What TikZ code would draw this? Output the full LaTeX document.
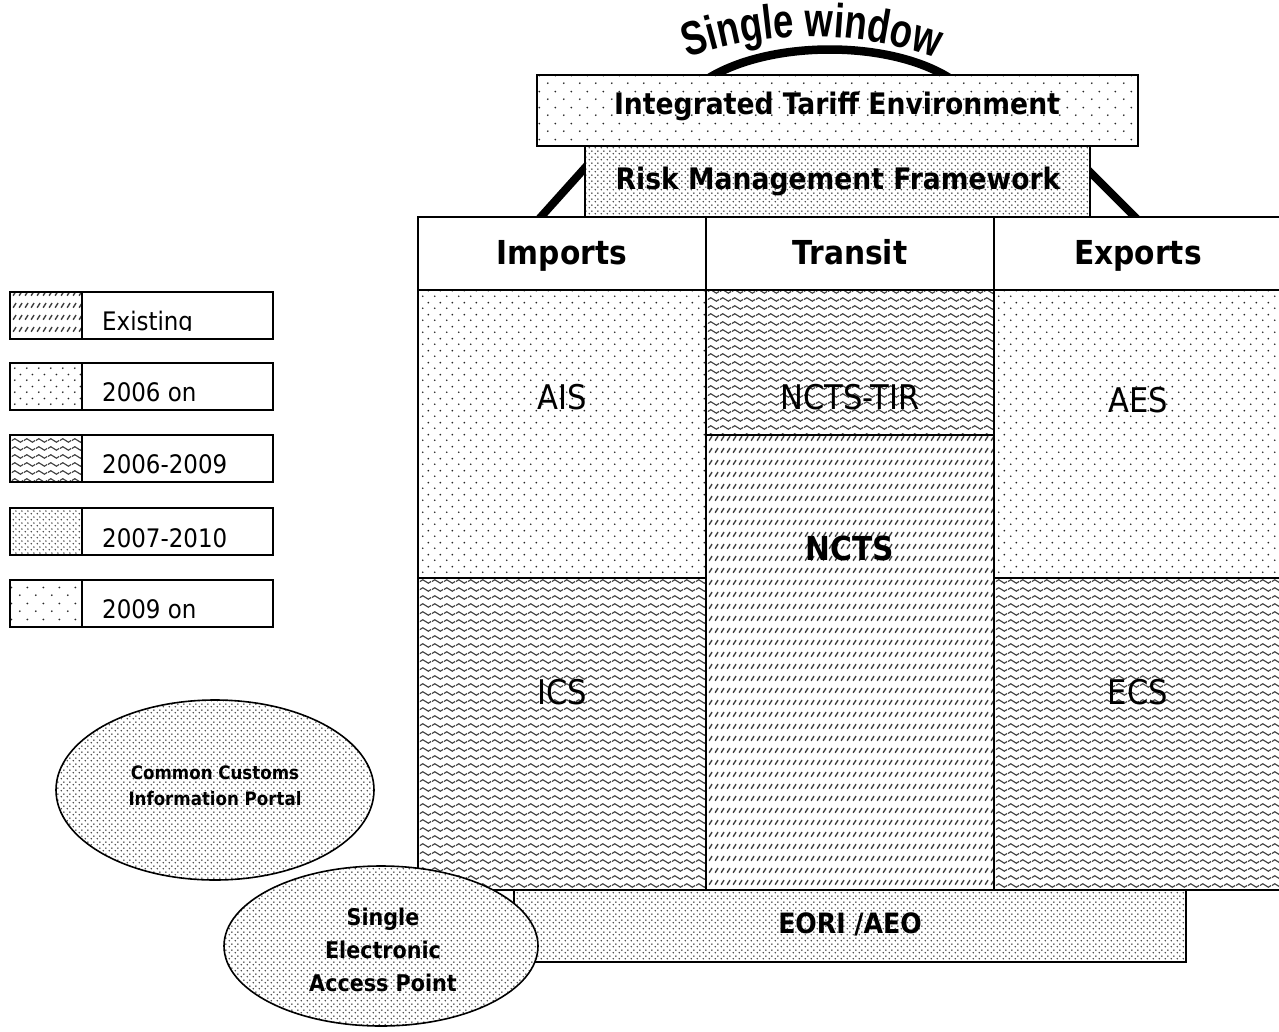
\documentclass[tikz,border=0pt]{standalone}
\usepackage{fontspec}
\setmainfont{DejaVu Sans Condensed}
\newfontfamily\libsans{Liberation Sans}[FakeStretch=0.76]
\usetikzlibrary{patterns,decorations.text,shapes.geometric}

% 2006 on
\pgfdeclarepatternformonly{dotsA}{\pgfpoint{0pt}{0pt}}{\pgfpoint{12pt}{12pt}}{\pgfpoint{12pt}{12pt}}{%
 \pgfpathcircle{\pgfpoint{3pt}{3pt}}{1pt}%
 \pgfpathcircle{\pgfpoint{9pt}{9pt}}{1pt}%
 \pgfusepath{fill}}
% 2009 on
\pgfdeclarepatternformonly{dotsB}{\pgfpoint{0pt}{0pt}}{\pgfpoint{16pt}{16pt}}{\pgfpoint{16pt}{16pt}}{%
 \pgfpathcircle{\pgfpoint{4pt}{4pt}}{1pt}%
 \pgfpathcircle{\pgfpoint{12pt}{12pt}}{1pt}%
 \pgfusepath{fill}}
% 2007-2010
\pgfdeclarepatternformonly{dotsC}{\pgfpoint{0pt}{0pt}}{\pgfpoint{6pt}{6pt}}{\pgfpoint{6pt}{6pt}}{%
 \pgfpathcircle{\pgfpoint{1.5pt}{1.5pt}}{0.95pt}%
 \pgfpathcircle{\pgfpoint{4.5pt}{4.5pt}}{0.95pt}%
 \pgfusepath{fill}}
% 2006-2009
\pgfdeclarepatternformonly{waves}{\pgfpoint{0pt}{0pt}}{\pgfpoint{12pt}{7.5pt}}{\pgfpoint{12pt}{7.5pt}}{%
 \pgfsetlinewidth{1.2pt}%
 \pgfpathmoveto{\pgfpoint{0pt}{3.75pt}}%
 \pgfpathcurveto{\pgfpoint{2pt}{6.2pt}}{\pgfpoint{4pt}{6.2pt}}{\pgfpoint{6pt}{3.75pt}}%
 \pgfpathcurveto{\pgfpoint{8pt}{1.3pt}}{\pgfpoint{10pt}{1.3pt}}{\pgfpoint{12pt}{3.75pt}}%
 \pgfusepath{stroke}}
% Existing
\pgfdeclarepatternformonly{existing}{\pgfpoint{0pt}{0pt}}{\pgfpoint{6pt}{12pt}}{\pgfpoint{6pt}{12pt}}{%
 \pgfsetlinewidth{1.6pt}%
 \pgfpathmoveto{\pgfpoint{1.3pt}{3.5pt}}%
 \pgfpathlineto{\pgfpoint{4.7pt}{8.5pt}}%
 \pgfusepath{stroke}}

\newcommand\swfont{\libsans\bfseries\fontsize{48pt}{48pt}\selectfont}

\tikzset{
 box/.style={draw=black, line width=2pt, inner sep=0pt, outer sep=0pt,
   anchor=north west, preaction={fill=white}},
 pA/.style={box, pattern=dotsA, pattern color=black!85},
 pB/.style={box, pattern=dotsB, pattern color=black!85},
 pC/.style={box, pattern=dotsC, pattern color=black!75},
 pW/.style={box, pattern=waves, pattern color=black!75},
 pE/.style={box, pattern=existing, pattern color=black!75},
 ell/.style={ellipse, draw=black, line width=1.6pt, inner sep=0pt,
   preaction={fill=white}, pattern=dotsC, pattern color=black!75},
 headtxt/.style={anchor=base, inner sep=0pt, font=\fontsize{33pt}{36pt}\selectfont\bfseries},
 celltxt/.style={inner sep=0pt, font=\fontsize{34pt}{36pt}\selectfont},
 celltxtb/.style={inner sep=0pt, font=\fontsize{33pt}{36pt}\selectfont\bfseries},
 bartxt/.style={anchor=base, inner sep=0pt, font=\fontsize{28pt}{30pt}\selectfont\bfseries},
 legtxt/.style={anchor=base west, inner sep=0pt, font=\fontsize{25.5pt}{27pt}\selectfont},
}

\begin{document}
\begin{tikzpicture}[x=1pt,y=-1pt]
\useasboundingbox (0,0) rectangle (1279,1031);

% Single window arc and text
\coordinate (arcL) at (700,84);
\coordinate (arcR) at (958,84);
\draw[line width=8.5pt] (arcL) .. controls (762,38) and (898,38) .. (arcR);
\path[decorate, decoration={text along path, text align=center,
   text={|\swfont|Single window}}]
   (662,68) .. controls (758,26) and (866,26) .. (962,68);

% thick slanted struts
\coordinate (sL1) at (592,160);
\coordinate (sL2) at (539,219);
\coordinate (sR1) at (1084,166);
\coordinate (sR2) at (1137,219);
\draw[line width=8pt] (sL1) -- (sL2);
\draw[line width=8pt] (sR1) -- (sR2);

% top boxes
\node[pB, minimum width=601pt, minimum height=71pt] (ite) at (537,75) {};
\node[bartxt, font=\fontsize{29.6pt}{30pt}\selectfont\bfseries] (itet) at (837,114) {Integrated Tariff Environment};
\node[pC, minimum width=505pt, minimum height=71pt] (rmf) at (585,146) {};
\node[bartxt, font=\fontsize{29.6pt}{30pt}\selectfont\bfseries] (rmft) at (838,189) {Risk Management Framework};

% headers
\node[box, minimum width=288pt, minimum height=73pt] (himp) at (418,217) {};
\node[box, minimum width=288pt, minimum height=73pt] (htra) at (706,217) {};
\node[box, minimum width=290pt, minimum height=73pt] (hexp) at (994,217) {};
\node[headtxt] (himpt) at (562,264) {Imports};
\node[headtxt] (htrat) at (850,264) {Transit};
\node[headtxt] (hexpt) at (1138,264) {Exports};

% cells
\node[pA, minimum width=288pt, minimum height=288pt] (ais) at (418,290) {};
\node[pW, minimum width=288pt, minimum height=312pt] (ics) at (418,578) {};
\node[pW, minimum width=288pt, minimum height=145pt] (tir) at (706,290) {};
\node[pE, minimum width=288pt, minimum height=455pt] (ncts) at (706,435) {};
\node[pA, minimum width=290pt, minimum height=288pt] (aes) at (994,290) {};
\node[pW, minimum width=290pt, minimum height=312pt] (ecs) at (994,578) {};
\node[celltxt] (aist) at (562,397) {AIS};
\node[celltxt] (icst) at (562,692) {ICS};
\node[celltxt] (tirt) at (850,397) {NCTS-TIR};
\node[celltxtb] (nctst) at (850,548) {NCTS};
\node[celltxt] (aest) at (1138,400) {AES};
\node[celltxt] (ecst) at (1138,692) {ECS};

% EORI / AEO
\node[pC, minimum width=672pt, minimum height=72pt] (eori) at (514,890) {};
\node[bartxt] (eorit) at (850,933) {EORI /AEO};

% ellipses
\node[ell, minimum width=318pt, minimum height=180pt] (ccip) at (215,790) {};
\node[align=center, inner sep=0pt, font=\fontsize{18.5pt}{26pt}\selectfont\bfseries] (ccipt) at (215,786) {Common Customs\\Information Portal};
\node[ell, minimum width=314pt, minimum height=160pt] (seap) at (381,946) {};
\node[align=center, inner sep=0pt, font=\fontsize{23pt}{33pt}\selectfont\bfseries] (seapt) at (383,950) {Single\\Electronic\\Access Point};

% legend
\node[box, minimum width=263pt, minimum height=47pt] (lb1) at (10,292) {};
\node[pE, minimum width=72pt, minimum height=47pt] (lp1) at (10,292) {};
\begin{scope}
\clip (84,294) rectangle (271,330.5);
\node[legtxt] (lt1) at (102,330) {Existing};
\end{scope}
\node[box, minimum width=263pt, minimum height=47pt] (lb2) at (10,363) {};
\node[pA, minimum width=72pt, minimum height=47pt] (lp2) at (10,363) {};
\node[legtxt] (lt2) at (102,401) {2006 on};
\node[box, minimum width=263pt, minimum height=47pt] (lb3) at (10,435) {};
\node[pW, minimum width=72pt, minimum height=47pt] (lp3) at (10,435) {};
\node[legtxt] (lt3) at (102,473) {2006-2009};
\node[box, minimum width=263pt, minimum height=47pt] (lb4) at (10,508) {};
\node[pC, minimum width=72pt, minimum height=47pt] (lp4) at (10,508) {};
\node[legtxt] (lt4) at (102,547) {2007-2010};
\node[box, minimum width=263pt, minimum height=47pt] (lb5) at (10,580) {};
\node[pB, minimum width=72pt, minimum height=47pt] (lp5) at (10,580) {};
\node[legtxt] (lt5) at (102,618) {2009 on};
\end{tikzpicture}
\end{document}
